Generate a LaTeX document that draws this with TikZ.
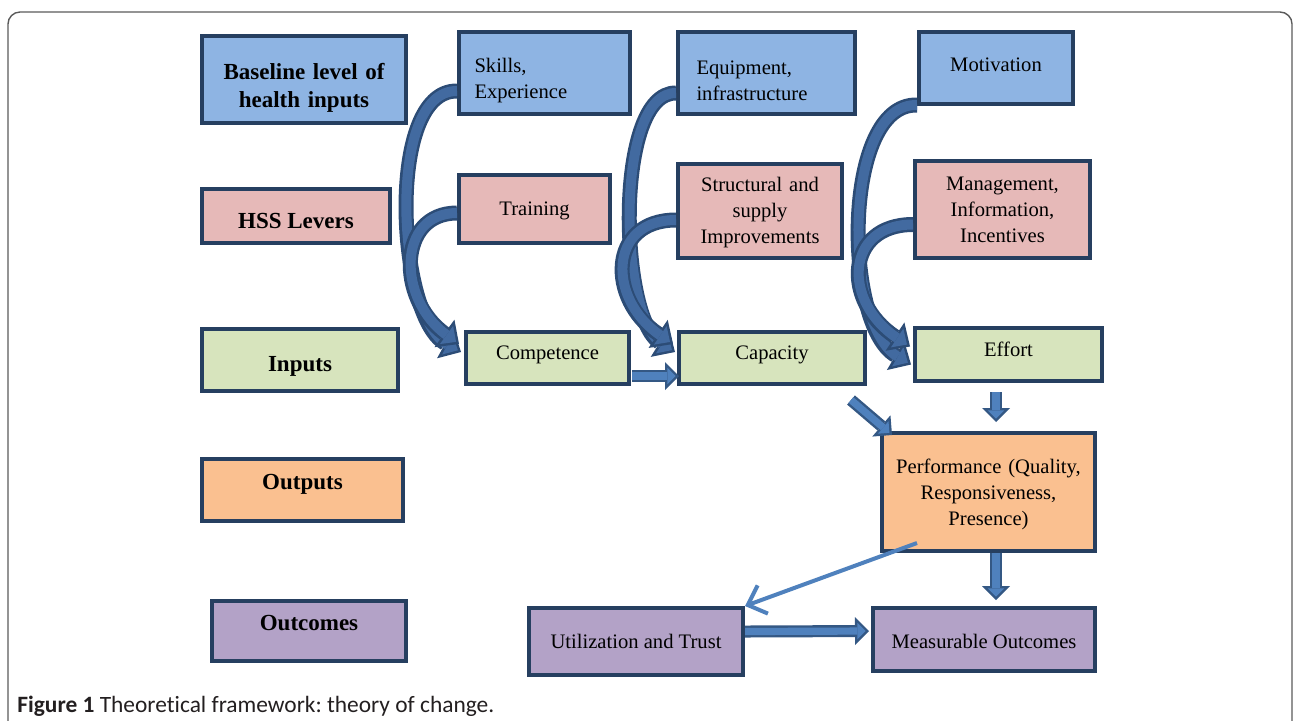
\documentclass[tikz,border=0pt]{standalone}
\usepackage{fontspec}
\setmainfont{Liberation Serif}
\newfontfamily\capfont[Ligatures=NoCommon]{Carlito}
\usepackage{xcolor}
\usetikzlibrary{arrows.meta,positioning,calc}
\frenchspacing

\definecolor{boxline}{RGB}{38,63,96}
\definecolor{baseblue}{RGB}{142,180,227}
\definecolor{leverpink}{RGB}{230,185,184}
\definecolor{inputgreen}{RGB}{215,228,189}
\definecolor{outputorange}{RGB}{250,192,144}
\definecolor{outcomepurple}{RGB}{179,162,199}
\definecolor{arrowfill}{RGB}{79,129,189}
\definecolor{arrowline}{RGB}{52,88,132}
\definecolor{curvefill}{RGB}{66,106,160}
\definecolor{curveline}{RGB}{44,76,118}
\definecolor{framegray}{RGB}{90,90,90}
\definecolor{captiongray}{RGB}{35,31,32}

\tikzset{
    box/.style={draw=boxline, line width=1.8pt, inner sep=2pt, align=center,
        font=\fontsize{10.3}{13}\selectfont},
    rowlabel/.style={box, font=\fontsize{11.5}{14}\selectfont\bfseries},
    base/.style={fill=baseblue},
    lever/.style={fill=leverpink},
    input/.style={fill=inputgreen},
    output/.style={fill=outputorange},
    outcome/.style={fill=outcomepurple},
    textlower/.style={execute at begin node={\rule{0pt}{#1}}},
    blockarrow/.style={draw=arrowfill, line width=3.6pt, shorten >=1.7pt,
        -{Triangle[length=4.1pt,width=8.2pt,line width=0pt]},
        preaction={draw=arrowline, line width=6pt, shorten >=0pt,
            -{Triangle[length=7pt,width=14pt,line width=0pt]}}},
    curvearrow/.style={draw=curvefill, line width=5pt, shorten >=1.8pt,
        -{Triangle[length=5.9pt,width=11.2pt,line width=0pt]},
        preaction={draw=curveline, line width=7.5pt, shorten >=0pt,
            -{Triangle[length=9pt,width=17pt,line width=0pt]}}},
    linkarrow/.style={draw=arrowfill, line width=2pt,
        -{Straight Barb[length=8pt,width=15pt]}}
}

\begin{document}
\begin{tikzpicture}[x=0.5pt,y=-0.5pt]
    % Frame
    \useasboundingbox (0,0) rectangle (1293,720);
    \draw[framegray, line width=0.7pt, rounded corners=6pt] (8,12) rectangle (1292,740);

    % Row labels
    \node[rowlabel, base, minimum width=102.2pt, minimum height=43.7pt, text width=98pt, textlower=16pt] (baseline) at (304,79.5) {Baseline level of\\health inputs};
    \node[rowlabel, lever, minimum width=94.2pt, minimum height=27.2pt, text height=13pt] (hss) at (296,216) {HSS Levers};
    \node[rowlabel, input, minimum width=98.2pt, minimum height=31.2pt, text height=13.5pt] (inputs) at (300,360) {Inputs};
    \node[rowlabel, output, minimum width=100.7pt, minimum height=31.2pt, text depth=8.6pt] (outputs) at (302.5,490) {Outputs};
    \node[rowlabel, outcome, minimum width=97.2pt, minimum height=30.2pt, text depth=8.3pt] (outcomes) at (309,631) {Outcomes};

    % Baseline level
    \node[box, base, minimum width=85.7pt, minimum height=41.2pt, text width=70pt, align=left, textlower=15pt] (skills) at (544.5,73) {Skills,\\Experience};
    \node[box, base, minimum width=88.7pt, minimum height=41.2pt, text width=70pt, align=left, textlower=15pt] (equipment) at (766.5,73) {Equipment,\\infrastructure};
    \node[box, base, minimum width=77.2pt, minimum height=36.2pt, text depth=3pt] (motivation) at (996,68) {Motivation};

    % Levers
    \node[box, lever, minimum width=75.7pt, minimum height=34.2pt, text height=9pt] (training) at (534.5,209) {Training};
    \node[box, lever, minimum width=82.2pt, minimum height=47.2pt, text width=78pt, textlower=9pt] (structural) at (760,211) {Structural and\\supply\\Improvements};
    \node[box, lever, minimum width=87.7pt, minimum height=48.7pt] (management) at (1002.5,209.5) {Management,\\Information,\\Incentives};

    % Inputs
    \node[box, input, minimum width=81.7pt, minimum height=26.2pt, text depth=5pt] (competence) at (547.5,358) {Competence};
    \node[box, input, minimum width=93.2pt, minimum height=26.2pt, text depth=5pt] (capacity) at (772,358) {Capacity};
    \node[box, input, minimum width=93.7pt, minimum height=26.7pt, text depth=5.5pt] (effort) at (1008.5,354.5) {Effort};

    % Outputs and outcomes
    \node[box, output, minimum width=106.7pt, minimum height=59.2pt, text width=102pt, textlower=10pt] (performance) at (988.5,492) {Performance (Quality,\\Responsiveness,\\Presence)};
    \node[box, outcome, minimum width=107.2pt, minimum height=33.7pt] (utilization) at (636,641.5) {Utilization and Trust};
    \node[box, outcome, minimum width=111.2pt, minimum height=31.7pt, text height=9.5pt] (measurable) at (984,639.5) {Measurable Outcomes};

    % Curved arrows
    \draw[curvearrow] ($(skills.west)+(0,18)$) .. controls +(-72,-1) and +(-64,-35) .. ($(competence.west)+(-3,-6)$);
    \draw[curvearrow] ($(training.west)+(0,4)$) .. controls +(-60,0) and +(-62,-45) .. ($(competence.west)+(-5,-14)$);
    \draw[curvearrow] ($(equipment.west)+(0,20)$) .. controls +(-62,-1) and +(-56,-35) .. ($(capacity.west)+(-2,-6)$);
    \draw[curvearrow] ($(structural.west)+(0,9)$) .. controls +(-68,0) and +(-66,-45) .. ($(capacity.west)+(-4,-14)$);
    \draw[curvearrow] ($(motivation.west)+(0,37)$) .. controls +(-75,-2) and +(-68,-40) .. ($(effort.west)+(-2,10)$);
    \draw[curvearrow] ($(management.west)+(0,15)$) .. controls +(-68,0) and +(-68,-45) .. ($(effort.west)+(-3,-8)$);

    % Straight arrows
    \draw[blockarrow] ($(competence.east)+(1,18)$) -- ($(capacity.west)+(2,18)$);
    \draw[blockarrow] ($(capacity.south east)+(-16,14)$) -- ($(performance.north west)+(12,4)$);
    \draw[blockarrow] ($(effort.south)+(-12.5,9)$) -- ($(performance.north)+(7.5,-9)$);
    \draw[blockarrow] ($(performance.south)+(7.5,0)$) -- ($(measurable.north)+(12,-6)$);
    \draw[blockarrow] ($(utilization.east)+(0,-10)$) -- ($(measurable.west)+(-2,-8.5)$);
    \draw[linkarrow] ($(performance.south west)+(37,-10)$) -- (utilization.north east);

    % Caption
    \node[anchor=base west, inner sep=0pt, text=captiongray, font=\capfont\fontsize{11.7}{13}\selectfont] (caption) at (17,712) {\textbf{Figure 1} Theoretical framework: theory of change.};
\end{tikzpicture}
\end{document}
